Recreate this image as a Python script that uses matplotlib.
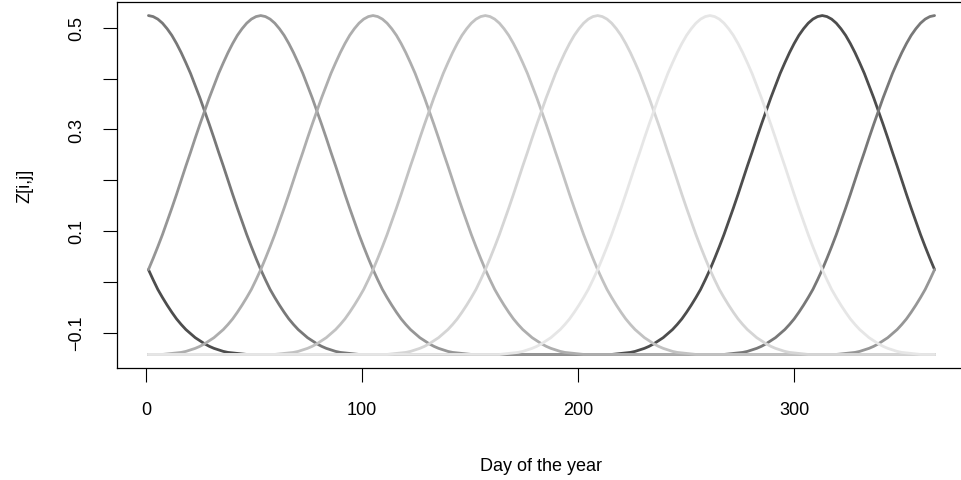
import numpy as np
import matplotlib
matplotlib.use("Agg")
import matplotlib.pyplot as plt

plt.rcParams['font.family'] = ['Liberation Sans', 'DejaVu Sans']

# Shape of one bump: value at offsets of 0,1,...,48 steps
# (one step = 1/24 of the spacing between neighbouring peaks) from the peak.
profile = [0.524, 0.522, 0.517, 0.509, 0.498, 0.485, 0.469, 0.451, 0.431,
           0.410, 0.386, 0.362, 0.336, 0.310, 0.283, 0.255, 0.228, 0.200,
           0.172, 0.145, 0.119, 0.093, 0.069, 0.046, 0.024, 0.004, -0.015,
           -0.031, -0.046, -0.060, -0.073, -0.084, -0.094, -0.102, -0.110,
           -0.116, -0.122, -0.127, -0.131, -0.134, -0.137, -0.139, -0.140,
           -0.141, -0.142, -0.143, -0.143, -0.143, -0.143]

# Peak day of each curve (periodic over the year), in drawing order
peak_days = [313, 1, 53, 105, 157, 209, 261]
line_colors = ["#4D4D4D", "#787878", "#969696", "#AEAEAE", "#C2C2C2",
               "#D5D5D5", "#E6E6E6"]

first_day, last_day = 1, 365
n_steps = 168           # steps around the year

x_ticks = [0, 100, 200, 300]
y_ticks = [-0.1, 0.0, 0.1, 0.2, 0.3, 0.4, 0.5]
y_tick_labels = ["\u22120.1", "", "0.1", "", "0.3", "", "0.5"]

W, H = 961, 481
fig = plt.figure(figsize=(W / 100, H / 100), dpi=100)
ax = fig.add_axes([117 / W, (H - 369) / H, (966 - 117) / W, (369 - 3) / H])

days = np.linspace(first_day, last_day, n_steps + 1)
idx = np.arange(n_steps + 1)
prof = np.array(profile)
for c, col in zip(peak_days, line_colors):
    ci = int(round((c - first_day) / (last_day - first_day) * n_steps))
    d = np.abs(idx - ci) % n_steps
    d = np.minimum(d, n_steps - d)
    y = prof[np.minimum(d, len(prof) - 1)]
    ax.plot(days, y, color=col, lw=2.0, solid_capstyle='round',
            solid_joinstyle='round')

ax.margins(x=0.04, y=0.04)
ax.set_xticks(x_ticks)
ax.set_xticklabels([str(v) for v in x_ticks])
ax.set_yticks(y_ticks)
ax.set_yticklabels(y_tick_labels, rotation=90, va='center')
ax.tick_params(axis='both', direction='out', length=10, width=0.8,
               labelsize=13, colors='black')
ax.tick_params(axis='x', pad=14)
ax.tick_params(axis='y', pad=13)
for s in ax.spines.values():
    s.set_linewidth(0.9)
    s.set_color('black')

ax.set_xlabel("Day of the year", fontsize=13, labelpad=28)
ax.set_ylabel("Z[i,j]", fontsize=13, labelpad=25)

fig.savefig("out.png", dpi=100)
